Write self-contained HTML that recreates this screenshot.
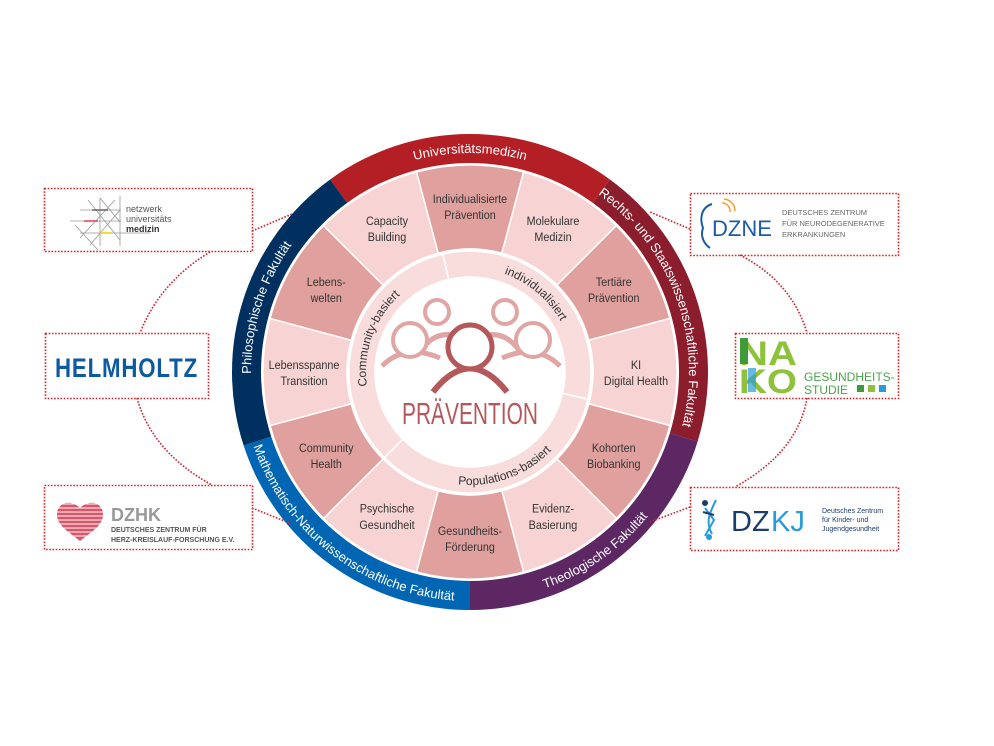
<!DOCTYPE html>
<html><head><meta charset="utf-8">
<style>
html,body{margin:0;padding:0;background:#fff;}
svg{display:block;font-family:"Liberation Sans",Arial,sans-serif;}
</style></head>
<body>
<svg id="s" width="994" height="746" viewBox="0 0 994 746" xmlns="http://www.w3.org/2000/svg">
<defs id="d"></defs>
<g id="g"></g>
<g fill="none" stroke="#d62027" stroke-width="1.6" stroke-dasharray="1.6 1.6">
<rect x="44.5" y="188.5" width="208" height="63"/>
<rect x="45.5" y="333.5" width="163" height="65"/>
<rect x="44.5" y="485.5" width="208" height="64"/>
<rect x="690.5" y="193.5" width="208" height="62"/>
<rect x="735.5" y="333.5" width="163" height="65"/>
<rect x="690.5" y="487.5" width="208" height="63"/>
<path d="M210,252 Q160,282 140,333"/>
<path d="M137,398 Q152,452 212,485"/>
<path d="M252,231 L292,214"/>
<path d="M252,508 L292,524"/>
<path d="M740,255 Q792,282 807,333"/>
<path d="M807,398 Q798,452 735,487"/>
<path d="M690,229 L650,212"/>
<path d="M690,507 L650,522"/>
</g>
<g stroke="#999" stroke-width="0.8" fill="none">
<path d="M80,210 L121,210 M70,221 L121,221 M80,233 L150,233 M120,196 L120,246 M100,198 L100,246"/>
<path d="M88,200 L120,240 M100,198 L120,222 M80,238 L115,200 M90,245 L120,210 M75,225 L98,250"/>
</g>
<path d="M92,210 L108,210" stroke="#666" stroke-width="1.5"/>
<path d="M84,221 L98,221" stroke="#e04050" stroke-width="1.5"/>
<path d="M100,233 L112,233" stroke="#f0d000" stroke-width="1.5"/>
<text x="126" y="212" font-size="9" fill="#555">netzwerk</text>
<text x="126" y="222" font-size="9" fill="#555">universitäts</text>
<text x="126" y="232" font-size="9" fill="#333" font-weight="bold">medizin</text>
<text x="55" y="377" font-size="27" font-weight="bold" fill="#0b5aa2" letter-spacing="1" textLength="143" lengthAdjust="spacingAndGlyphs">HELMHOLTZ</text>
<path d="M80,508 C70,498 56,503 57,516 C58,526 70,533 80,541 C90,533 102,526 103,516 C104,503 90,498 80,508Z" fill="#d9566a"/>
<g stroke="#fff" stroke-width="1">
<path d="M55,504 H105 M55,508 H105 M55,512 H105 M55,516 H105 M55,520 H105 M55,524 H105 M55,528 H105 M55,532 H105 M55,536 H105"/>
</g>
<text x="111" y="521" font-size="18" font-weight="bold" fill="#999">DZHK</text>
<text x="111" y="532" font-size="7" font-weight="bold" fill="#555">DEUTSCHES ZENTRUM FÜR</text>
<text x="111" y="542" font-size="7" font-weight="bold" fill="#555">HERZ-KREISLAUF-FORSCHUNG E.V.</text>
<path d="M712,204 C700,208 700,220 703,228 C700,236 704,244 710,248" stroke="#1d5ba3" stroke-width="2" fill="none"/>
<path d="M722,203 A8,8 0 0 1 730,212 M724,199 A12,12 0 0 1 735,211" stroke="#f0a030" stroke-width="1.5" fill="none"/>
<text x="712" y="236" font-size="22" fill="#1d5ba3">DZNE</text>
<text x="782" y="215" font-size="7.5" fill="#666">DEUTSCHES ZENTRUM</text>
<text x="782" y="226" font-size="7.5" fill="#666">FÜR NEURODEGENERATIVE</text>
<text x="782" y="237" font-size="7.5" fill="#666">ERKRANKUNGEN</text>
<text x="739" y="365" font-size="34" font-weight="bold" fill="#8fc23c" textLength="58" lengthAdjust="spacingAndGlyphs">NA</text>
<text x="739" y="393" font-size="34" font-weight="bold" fill="#8fc23c" textLength="58" lengthAdjust="spacingAndGlyphs">KO</text>
<rect x="740" y="338" width="8" height="26" fill="#3f9a3a"/>
<rect x="748" y="368" width="8" height="24" fill="#2a9bd8" opacity="0.7"/>
<text x="804" y="381" font-size="12" fill="#4aa44a">GESUNDHEITS-</text>
<text x="804" y="394" font-size="12" fill="#4aa44a">STUDIE</text>
<rect x="857" y="385" width="7" height="7" fill="#3f9a3a"/>
<rect x="868" y="385" width="7" height="7" fill="#8fc23c"/>
<rect x="879" y="385" width="7" height="7" fill="#2a9bd8"/>
<circle cx="705" cy="503" r="3" fill="#1c3c6e"/>
<path d="M705,508 L714,520 L705,536 M716,500 C710,512 705,522 712,534" stroke="#2a9bd8" stroke-width="2" fill="none"/>
<path d="M703,512 L714,515" stroke="#1c3c6e" stroke-width="2"/>
<circle cx="709" cy="537" r="3" fill="#2a9bd8"/>
<text x="731" y="531" font-size="29" fill="#1c3c6e">DZ</text>
<text x="771" y="531" font-size="29" fill="#2a9bd8">KJ</text>
<text x="822" y="513" font-size="7" fill="#1c3c6e">Deutsches Zentrum</text>
<text x="822" y="522" font-size="7" fill="#1c3c6e">für Kinder- und</text>
<text x="822" y="531" font-size="7" fill="#1c3c6e">Jugendgesundheit</text>
<g id="center"></g>
</svg>
<script>
var NS="http://www.w3.org/2000/svg",cx=470,cy=372;
function P(r,a){a=a*Math.PI/180;return (cx+r*Math.cos(a)).toFixed(2)+","+(cy+r*Math.sin(a)).toFixed(2);}
function sec(r1,r2,a1,a2){var l=(a2-a1)>180?1:0;return "M"+P(r2,a1)+" A"+r2+","+r2+" 0 "+l+" 1 "+P(r2,a2)+" L"+P(r1,a2)+" A"+r1+","+r1+" 0 "+l+" 0 "+P(r1,a1)+"Z";}
var g=document.getElementById("g"),d=document.getElementById("d");
function el(t,at,par,txt){var e=document.createElementNS(NS,t);for(var k in at)e.setAttribute(k,at[k]);if(txt!=null)e.textContent=txt;(par||g).appendChild(e);return e;}
[[-126,-54,"#b31f24"],[-54,17,"#8c1d2d"],[17,90,"#5c2763"],[90,162,"#0066b3"],[162,234,"#00305f"]].forEach(function(s){el("path",{d:sec(209,238,s[0],s[1]),fill:s[2]});});
var labs=[["Individualisierte","Prävention"],["Molekulare","Medizin"],["Tertiäre","Prävention"],["KI","Digital Health"],["Kohorten","Biobanking"],["Evidenz-","Basierung"],["Gesundheits-","Förderung"],["Psychische","Gesundheit"],["Community","Health"],["Lebensspanne","Transition"],["Lebens-","welten"],["Capacity","Building"]];
for(var i=0;i<12;i++){var a=-90+30*i;el("path",{d:sec(123,207,a-15,a+15),fill:i%2?"#f8d3d3":"#e0a19e",stroke:"#fff","stroke-width":"1.5"});}
for(var i=0;i<12;i++){var a=(-90+30*i)*Math.PI/180,x=cx+166*Math.cos(a),y=cy+166*Math.sin(a);
var t1=el("text",{x:x/0.9,y:y-3,"font-size":"12","text-anchor":"middle",fill:"#333",transform:"scale(0.9,1)"},null,labs[i][0]);
el("text",{x:x/0.9,y:y+13,"font-size":"12","text-anchor":"middle",fill:"#333",transform:"scale(0.9,1)"},null,labs[i][1]);}
el("circle",{cx:cx,cy:cy,r:123,fill:"#fff"});
[[-103,13],[13,135],[135,257]].forEach(function(s){el("path",{d:sec(95,121,s[0],s[1]),fill:"#f9dcdc",stroke:"#fff","stroke-width":"1.5"});});
el("circle",{cx:cx,cy:cy,r:94,fill:"#fff"});
var n=0;
function arcText(r,a1,a2,cw,txt,size,col){var id="p"+(n++);var l=Math.abs(a2-a1)>180?1:0;
el("path",{id:id,d:"M"+P(r,a1)+" A"+r+","+r+" 0 "+l+" "+(cw?1:0)+" "+P(r,a2),fill:"none"},d);
var t=el("text",{"font-size":size,fill:col,"text-anchor":"middle"});
var tp=el("textPath",{href:"#"+id,startOffset:"50%"},t,txt);tp.setAttributeNS("http://www.w3.org/1999/xlink","xlink:href","#"+id);}
arcText(219,-150,-30,1,"Universitätsmedizin",13,"#fff");
arcText(219,-90,50,1,"Rechts- und Staatswissenschaftliche Fakultät",13,"#fff");
arcText(219,130,265,1,"Philosophische Fakultät",13,"#fff");
arcText(229,200,55,0,"Mathematisch-Naturwissenschaftliche Fakultät",13,"#fff");
arcText(229,110,0,0,"Theologische Fakultät",13,"#fff");
arcText(104,-110,10,1,"individualisiert",12,"#333");
arcText(104,140,260,1,"Community-basiert",12,"#333");
arcText(113,130,10,0,"Populations-basiert",12,"#333");
var c=document.getElementById("center");
var lc="#e0a5a5",dc="#b5585b";
el("path",{d:"M420,352 Q437,325 468,340",fill:"none",stroke:lc,"stroke-width":5},c);
el("path",{d:"M520,352 Q503,325 472,340",fill:"none",stroke:lc,"stroke-width":5},c);
el("circle",{cx:437,cy:312,r:12,fill:"#fff",stroke:lc,"stroke-width":4},c);
el("circle",{cx:505,cy:312,r:12,fill:"#fff",stroke:lc,"stroke-width":4},c);
el("path",{d:"M382,366 Q405,343 440,358",fill:"none",stroke:lc,"stroke-width":5},c);
el("path",{d:"M560,366 Q537,343 502,358",fill:"none",stroke:lc,"stroke-width":5},c);
el("circle",{cx:410,cy:340,r:17,fill:"#fff",stroke:lc,"stroke-width":4},c);
el("circle",{cx:533,cy:340,r:17,fill:"#fff",stroke:lc,"stroke-width":4},c);
el("path",{d:"M433,392 Q470,345 507,392",fill:"none",stroke:dc,"stroke-width":6},c);
el("circle",{cx:470,cy:347,r:22,fill:"#fff",stroke:dc,"stroke-width":5},c);
el("text",{x:470,y:424,"font-size":"31","text-anchor":"middle",fill:dc,textLength:"136",lengthAdjust:"spacingAndGlyphs"},c,"PRÄVENTION");
</script>
</body></html>
